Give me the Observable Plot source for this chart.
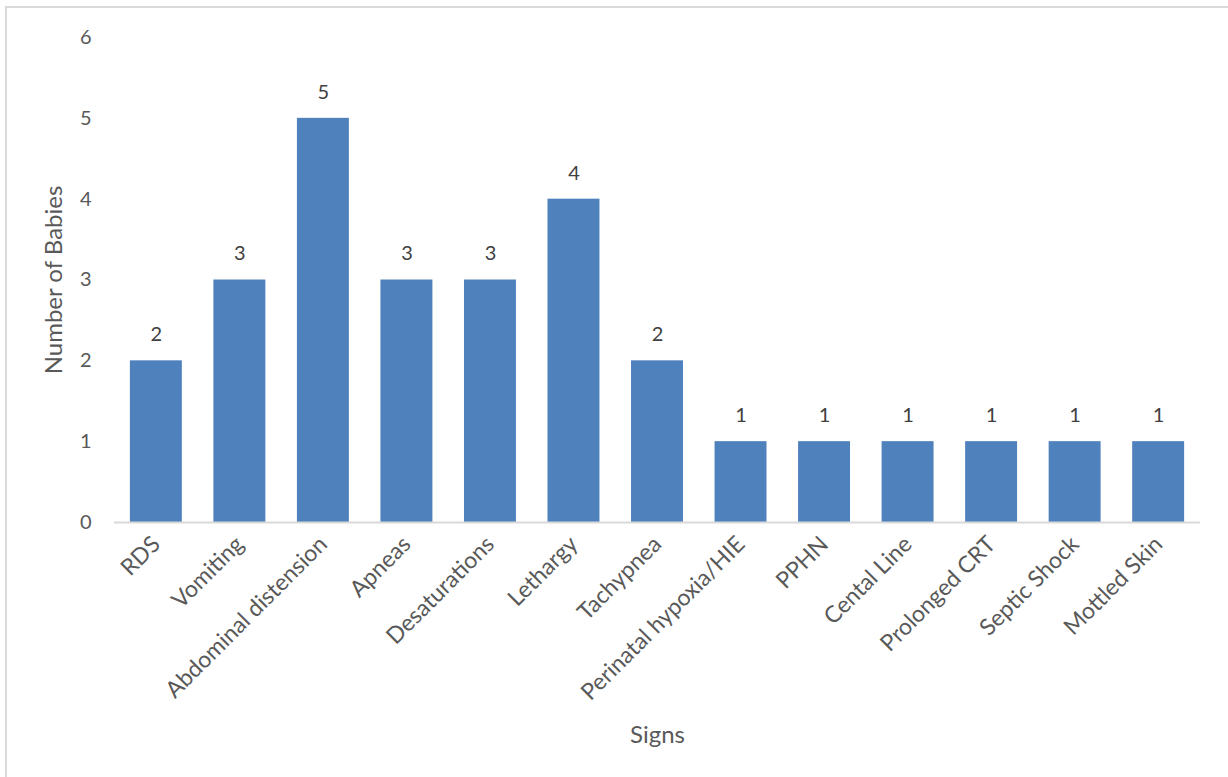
<!DOCTYPE html>
<html>
<head>
<meta charset="utf-8">
<script src="https://cdn.jsdelivr.net/npm/d3@7"></script>
<script src="https://cdn.jsdelivr.net/npm/@observablehq/plot@0.6"></script>
<style>
  html, body { margin: 0; padding: 0; background: #fff; overflow: hidden; }
  #wrap { position: relative; width: 1228px; height: 777px; }
  #frame { position: absolute; left: 5px; top: 6px; width: 1240px; height: 800px; border: 2px solid #d9d9d9; box-sizing: border-box; }
  #chart { position: absolute; left: 0; top: 0; }
</style>
</head>
<body>
<div id="wrap">
  <div id="frame"></div>
  <div id="chart"></div>
</div>
<script>
const signs = ["RDS", "Vomiting", "Abdominal distension", "Apneas", "Desaturations", "Lethargy", "Tachypnea", "Perinatal hypoxia/HIE", "PPHN", "Cental Line", "Prolonged CRT", "Septic Shock", "Mottled Skin"];
const babies = [2, 3, 5, 3, 3, 4, 2, 1, 1, 1, 1, 1, 1];
const yTicks = [0, 1, 2, 3, 4, 5, 6];

const data = signs.map((s, i) => ({sign: s, n: babies[i]}));

const chart = Plot.plot({
  width: 1228,
  height: 777,
  marginLeft: 114,
  marginRight: 28,
  marginTop: 37,
  marginBottom: 255,
  style: {fontFamily: "Lato, 'Open Sans', sans-serif", fontSize: "20px", color: "#595959", background: "transparent"},
  x: {domain: signs, paddingInner: 0.378, paddingOuter: 0.19, round: false},
  y: {domain: [0, 6]},
  marks: [
    Plot.barY(data, {x: "sign", y: "n", fill: "#4f81bd"}),
    Plot.ruleY([0], {stroke: "#d9d9d9", strokeWidth: 2}),
    Plot.text(data, {x: "sign", y: "n", text: d => String(d.n), dy: -26, fill: "#404040", fontSize: 20}),
    Plot.axisY({ticks: yTicks, tickSize: 0, tickPadding: 23, tickFormat: d => String(d), label: null, fontSize: 20}),
    Plot.axisY({ticks: [], label: "Number of Babies", labelAnchor: "center", labelArrow: "none", labelOffset: 70, fontSize: 24}),
    Plot.axisX({tickSize: 0, tickPadding: 18, tickRotate: -45, label: null, fontSize: 23}),
    Plot.axisX({ticks: [], label: "Signs", labelAnchor: "center", labelArrow: "none", labelOffset: 220, fontSize: 24})
  ]
});
document.getElementById("chart").appendChild(chart);
</script>
</body>
</html>
